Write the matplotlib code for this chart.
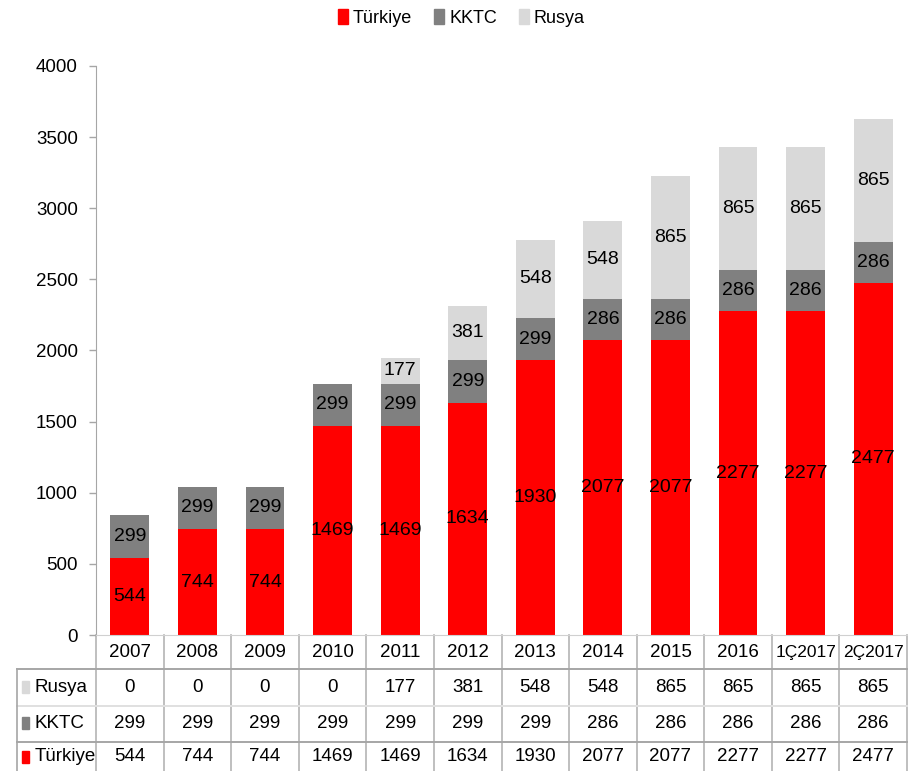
import matplotlib.pyplot as plt
import matplotlib.transforms as mtransforms
from matplotlib.patches import Patch, Rectangle
import numpy as np

plt.rcParams["font.family"] = ["Liberation Sans", "DejaVu Sans"]

periods = ["2007", "2008", "2009", "2010", "2011", "2012", "2013",
           "2014", "2015", "2016", "1Ç2017", "2Ç2017"]
turkiye = [544, 744, 744, 1469, 1469, 1634, 1930, 2077, 2077, 2277, 2277, 2477]
kktc = [299, 299, 299, 299, 299, 299, 299, 286, 286, 286, 286, 286]
rusya = [0, 0, 0, 0, 177, 381, 548, 548, 865, 865, 865, 865]

series_names = ["Türkiye", "KKTC", "Rusya"]
series_colors = ["#FF0000", "#808080", "#D9D9D9"]
yticks = [0, 500, 1000, 1500, 2000, 2500, 3000, 3500, 4000]

W, H = 908, 771
fig = plt.figure(figsize=(W / 100, H / 100), dpi=100)
ax = fig.add_axes([96 / W, (H - 635) / H, 811 / W, 569 / H])

x = np.arange(len(periods))
series = [turkiye, kktc, rusya]
bottom = np.zeros(len(periods))
for vals, name, col in zip(series, series_names, series_colors):
    vals = np.array(vals, dtype=float)
    ax.bar(x, vals, 0.575, bottom=bottom, color=col, label=name, zorder=2)
    for xi, b, v in zip(x, bottom, vals):
        if v > 0:
            ax.text(xi, b + v / 2, f"{int(v)}", ha="center", va="center",
                    fontsize=14, color="black", zorder=3)
    bottom += vals

ax.set_xlim(-0.5, len(periods) - 0.5)
ax.set_ylim(0, 4000)
ax.set_yticks(yticks)
ax.set_yticklabels([str(t) for t in yticks], fontsize=13.5)
ax.tick_params(axis="y", length=5, width=1, color="#A6A6A6", pad=8)
ax.set_xticks([])
for s in ["top", "right"]:
    ax.spines[s].set_visible(False)
ax.spines["left"].set_color("#A6A6A6")
ax.spines["bottom"].set_color("#D0D0D0")

# data table under the plot
trans = mtransforms.blended_transform_factory(ax.transData, ax.transAxes)
line_col = "#B4B4B4"
y_bottom = -0.245
y_header = -0.030
row_y = [-0.0914, -0.1547, -0.2144]
row_lines = [(-0.0598, "#A6A6A6"), (-0.1248, "#E0E0E0"), (-0.188, "#A6A6A6")]
x_left = -1.67

for k in range(len(periods) + 1):
    ax.plot([k - 0.5, k - 0.5], [0, y_bottom], color=line_col, lw=1.2,
            transform=trans, clip_on=False, zorder=1)
for yl, c in row_lines:
    ax.plot([x_left, len(periods) - 0.5], [yl, yl], color=c, lw=1.4,
            transform=trans, clip_on=False, zorder=1)
ax.plot([x_left, x_left], [row_lines[0][0], y_bottom], color="#A6A6A6",
        lw=1.2, transform=trans, clip_on=False, zorder=1)

for xi, p in zip(x, periods):
    ax.text(xi, y_header, p, ha="center", va="center",
            fontsize=13.5 if len(p) <= 4 else 12.5,
            transform=trans, clip_on=False)

table_rows = [("Rusya", rusya, "#D9D9D9"), ("KKTC", kktc, "#808080"),
              ("Türkiye", turkiye, "#FF0000")]
for (name, vals, col), yr in zip(table_rows, row_y):
    ax.add_patch(Rectangle((-1.59, yr - 0.011), 0.105, 0.022, color=col,
                           transform=trans, clip_on=False))
    ax.text(-1.415, yr, name, ha="left", va="center", fontsize=13.5,
            transform=trans, clip_on=False)
    for xi, v in zip(x, vals):
        ax.text(xi, yr, str(v), ha="center", va="center", fontsize=13.5,
                transform=trans, clip_on=False)

handles = [Patch(color=c, label=n) for n, c in zip(series_names, series_colors)]
fig.legend(handles=handles, loc="center", bbox_to_anchor=(0.508, 1 - 18 / H),
           ncol=3, frameon=False, fontsize=13, handlelength=0.55,
           handleheight=0.9, handletextpad=0.3, columnspacing=1.2)

fig.savefig("out.png", dpi=100)
